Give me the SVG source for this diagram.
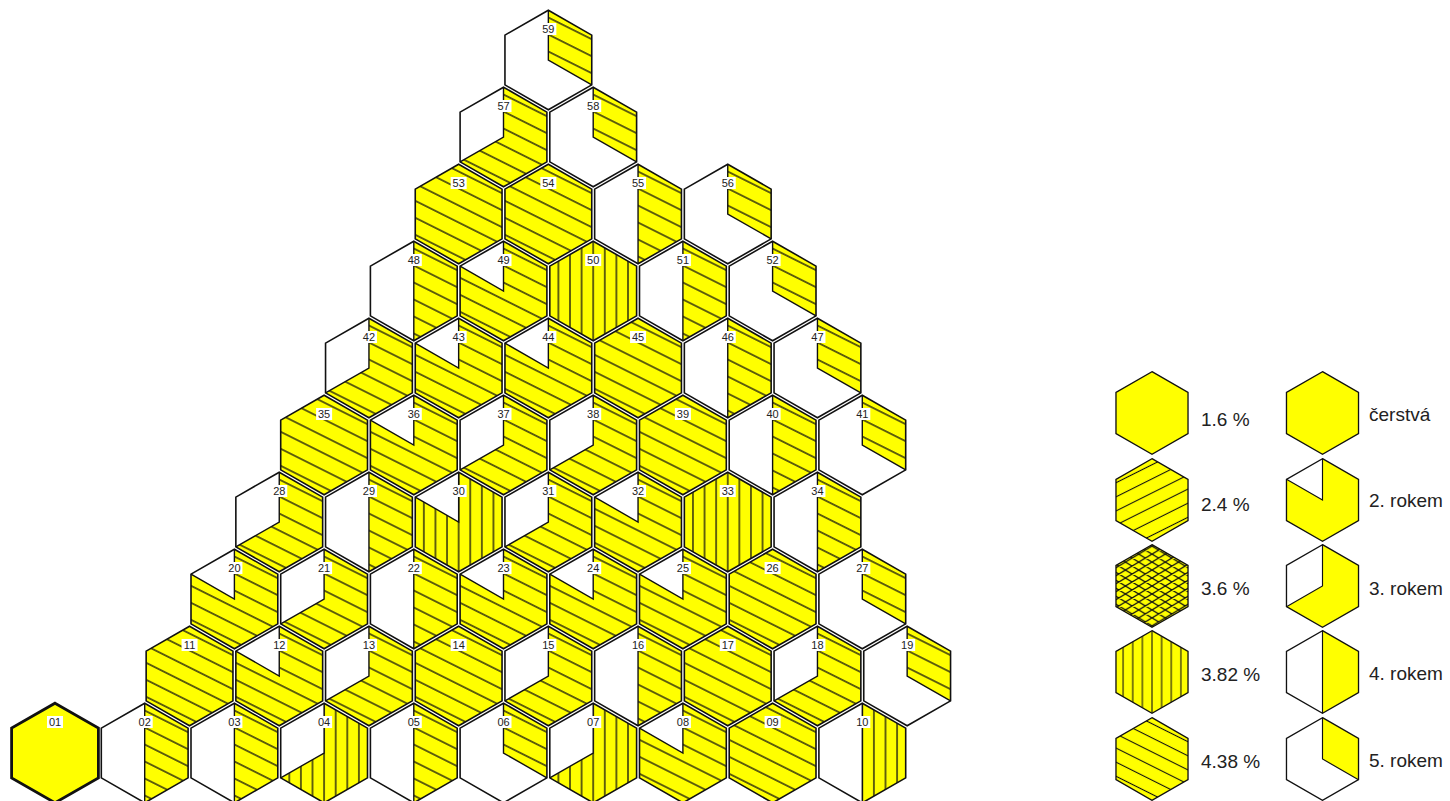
<svg xmlns="http://www.w3.org/2000/svg" xmlns:xlink="http://www.w3.org/1999/xlink" width="1450" height="801" viewBox="0 0 1450 801">
<style>
.hw{fill:#fff}
.ol{fill:none;stroke:#111;stroke-width:1.6}
.olb{fill:none;stroke:#111;stroke-width:2.8}
.dv{fill:none;stroke:#111;stroke-width:1.4}
.h{fill:url(#p438)}
.u{fill:url(#p24)}
.x{fill:url(#p36)}
.v{fill:url(#p382)}
.s{fill:#ffff00}
.lb{fill:#fff}
.lt{font-family:"Liberation Sans",Arial,sans-serif;font-size:11px;fill:#222;text-anchor:middle}
.lg{font-family:"Liberation Sans",Arial,sans-serif;font-size:19px;fill:#222}
</style>
<defs>
<pattern id="p438" patternUnits="userSpaceOnUse" width="20" height="15.2" patternTransform="rotate(26.57)">
<rect width="20" height="15.2" fill="#ffff00"/>
<line x1="-1" y1="7.6" x2="21" y2="7.6" stroke="#111" stroke-width="1.3"/>
</pattern>
<pattern id="p24" patternUnits="userSpaceOnUse" width="20" height="15.2" patternTransform="rotate(-26.57)">
<rect width="20" height="15.2" fill="#ffff00"/>
<line x1="-1" y1="7.6" x2="21" y2="7.6" stroke="#111" stroke-width="1.3"/>
</pattern>
<pattern id="p36" patternUnits="userSpaceOnUse" width="16" height="9.6">
<rect width="16" height="9.6" fill="#ffff00"/>
<path d="M-16,-9.6 L32,19.2 M-16,0 L16,19.2 M0,-9.6 L32,9.6 M-16,19.2 L32,-9.6 M-16,9.6 L16,-9.6 M0,19.2 L32,0" stroke="#111" stroke-width="1.5" fill="none"/>
</pattern>
<pattern id="p382" patternUnits="userSpaceOnUse" width="11.6" height="10" x="-5.8">
<rect width="11.6" height="10" fill="#ffff00"/>
<line x1="5.8" y1="-1" x2="5.8" y2="11" stroke="#111" stroke-width="1.3"/>
</pattern>
<polygon id="hx" points="0,-49.8 43.4,-24.9 43.4,24.9 0,49.8 -43.4,24.9 -43.4,-24.9"/>
<polygon id="y2" points="0,0 0,-49.8 43.4,-24.9 43.4,24.9 0,49.8 -43.4,24.9 -43.4,-24.9"/>
<polygon id="y3" points="0,0 0,-49.8 43.4,-24.9 43.4,24.9 0,49.8 -43.4,24.9"/>
<polygon id="y4" points="0,-49.8 43.4,-24.9 43.4,24.9 0,49.8"/>
<polygon id="y5" points="0,0 0,-49.8 43.4,-24.9 43.4,24.9"/>
<path id="d2" d="M0,-49.8 L0,0 L-43.4,-24.9"/>
<path id="d3" d="M0,-49.8 L0,0 L-43.4,24.9"/>
<path id="d4" d="M0,-49.8 L0,49.8"/>
<path id="d5" d="M0,-49.8 L0,0 L43.4,24.9"/>
<g id="tag"><rect class="lb" x="-8" y="-37" width="16" height="12"/></g>
</defs>
<rect width="1450" height="801" fill="#fff"/>
<g id="core">
<!-- row 0 -->
<g id="fa01" transform="translate(55,753)"><use href="#hx" class="s"/><use href="#hx" class="olb"/><use href="#tag"/><text class="lt" y="-27">01</text></g>
<g id="fa02" transform="translate(144.7,753)"><use href="#hx" class="hw"/><use href="#y4" class="h"/><use href="#d4" class="dv"/><use href="#hx" class="ol"/><use href="#tag"/><text class="lt" y="-27">02</text></g>
<g id="fa03" transform="translate(234.4,753)"><use href="#hx" class="hw"/><use href="#y4" class="h"/><use href="#d4" class="dv"/><use href="#hx" class="ol"/><use href="#tag"/><text class="lt" y="-27">03</text></g>
<g id="fa04" transform="translate(324.1,753)"><use href="#hx" class="hw"/><use href="#y3" class="v"/><use href="#d3" class="dv"/><use href="#hx" class="ol"/><use href="#tag"/><text class="lt" y="-27">04</text></g>
<g id="fa05" transform="translate(413.8,753)"><use href="#hx" class="hw"/><use href="#y4" class="h"/><use href="#d4" class="dv"/><use href="#hx" class="ol"/><use href="#tag"/><text class="lt" y="-27">05</text></g>
<g id="fa06" transform="translate(503.5,753)"><use href="#hx" class="hw"/><use href="#y5" class="h"/><use href="#d5" class="dv"/><use href="#hx" class="ol"/><use href="#tag"/><text class="lt" y="-27">06</text></g>
<g id="fa07" transform="translate(593.2,753)"><use href="#hx" class="hw"/><use href="#y3" class="v"/><use href="#d3" class="dv"/><use href="#hx" class="ol"/><use href="#tag"/><text class="lt" y="-27">07</text></g>
<g id="fa08" transform="translate(682.9,753)"><use href="#hx" class="hw"/><use href="#y2" class="h"/><use href="#d2" class="dv"/><use href="#hx" class="ol"/><use href="#tag"/><text class="lt" y="-27">08</text></g>
<g id="fa09" transform="translate(772.6,753)"><use href="#hx" class="h"/><use href="#hx" class="ol"/><use href="#tag"/><text class="lt" y="-27">09</text></g>
<g id="fa10" transform="translate(862.3,753)"><use href="#hx" class="hw"/><use href="#y4" class="v"/><use href="#d4" class="dv"/><use href="#hx" class="ol"/><use href="#tag"/><text class="lt" y="-27">10</text></g>
<!-- row 1 -->
<g id="fa11" transform="translate(189.55,676)"><use href="#hx" class="h"/><use href="#hx" class="ol"/><use href="#tag"/><text class="lt" y="-27">11</text></g>
<g id="fa12" transform="translate(279.25,676)"><use href="#hx" class="hw"/><use href="#y2" class="h"/><use href="#d2" class="dv"/><use href="#hx" class="ol"/><use href="#tag"/><text class="lt" y="-27">12</text></g>
<g id="fa13" transform="translate(368.95,676)"><use href="#hx" class="hw"/><use href="#y3" class="h"/><use href="#d3" class="dv"/><use href="#hx" class="ol"/><use href="#tag"/><text class="lt" y="-27">13</text></g>
<g id="fa14" transform="translate(458.65,676)"><use href="#hx" class="h"/><use href="#hx" class="ol"/><use href="#tag"/><text class="lt" y="-27">14</text></g>
<g id="fa15" transform="translate(548.35,676)"><use href="#hx" class="hw"/><use href="#y3" class="h"/><use href="#d3" class="dv"/><use href="#hx" class="ol"/><use href="#tag"/><text class="lt" y="-27">15</text></g>
<g id="fa16" transform="translate(638.05,676)"><use href="#hx" class="hw"/><use href="#y4" class="h"/><use href="#d4" class="dv"/><use href="#hx" class="ol"/><use href="#tag"/><text class="lt" y="-27">16</text></g>
<g id="fa17" transform="translate(727.75,676)"><use href="#hx" class="h"/><use href="#hx" class="ol"/><use href="#tag"/><text class="lt" y="-27">17</text></g>
<g id="fa18" transform="translate(817.45,676)"><use href="#hx" class="hw"/><use href="#y3" class="h"/><use href="#d3" class="dv"/><use href="#hx" class="ol"/><use href="#tag"/><text class="lt" y="-27">18</text></g>
<g id="fa19" transform="translate(907.15,676)"><use href="#hx" class="hw"/><use href="#y5" class="h"/><use href="#d5" class="dv"/><use href="#hx" class="ol"/><use href="#tag"/><text class="lt" y="-27">19</text></g>
<!-- row 2 -->
<g id="fa20" transform="translate(234.4,599)"><use href="#hx" class="hw"/><use href="#y2" class="h"/><use href="#d2" class="dv"/><use href="#hx" class="ol"/><use href="#tag"/><text class="lt" y="-27">20</text></g>
<g id="fa21" transform="translate(324.1,599)"><use href="#hx" class="hw"/><use href="#y3" class="h"/><use href="#d3" class="dv"/><use href="#hx" class="ol"/><use href="#tag"/><text class="lt" y="-27">21</text></g>
<g id="fa22" transform="translate(413.8,599)"><use href="#hx" class="hw"/><use href="#y4" class="h"/><use href="#d4" class="dv"/><use href="#hx" class="ol"/><use href="#tag"/><text class="lt" y="-27">22</text></g>
<g id="fa23" transform="translate(503.5,599)"><use href="#hx" class="hw"/><use href="#y2" class="h"/><use href="#d2" class="dv"/><use href="#hx" class="ol"/><use href="#tag"/><text class="lt" y="-27">23</text></g>
<g id="fa24" transform="translate(593.2,599)"><use href="#hx" class="hw"/><use href="#y2" class="h"/><use href="#d2" class="dv"/><use href="#hx" class="ol"/><use href="#tag"/><text class="lt" y="-27">24</text></g>
<g id="fa25" transform="translate(682.9,599)"><use href="#hx" class="hw"/><use href="#y2" class="h"/><use href="#d2" class="dv"/><use href="#hx" class="ol"/><use href="#tag"/><text class="lt" y="-27">25</text></g>
<g id="fa26" transform="translate(772.6,599)"><use href="#hx" class="h"/><use href="#hx" class="ol"/><use href="#tag"/><text class="lt" y="-27">26</text></g>
<g id="fa27" transform="translate(862.3,599)"><use href="#hx" class="hw"/><use href="#y5" class="h"/><use href="#d5" class="dv"/><use href="#hx" class="ol"/><use href="#tag"/><text class="lt" y="-27">27</text></g>
<!-- row 3 -->
<g id="fa28" transform="translate(279.25,522)"><use href="#hx" class="hw"/><use href="#y3" class="h"/><use href="#d3" class="dv"/><use href="#hx" class="ol"/><use href="#tag"/><text class="lt" y="-27">28</text></g>
<g id="fa29" transform="translate(368.95,522)"><use href="#hx" class="hw"/><use href="#y4" class="h"/><use href="#d4" class="dv"/><use href="#hx" class="ol"/><use href="#tag"/><text class="lt" y="-27">29</text></g>
<g id="fa30" transform="translate(458.65,522)"><use href="#hx" class="hw"/><use href="#y2" class="v"/><use href="#d2" class="dv"/><use href="#hx" class="ol"/><use href="#tag"/><text class="lt" y="-27">30</text></g>
<g id="fa31" transform="translate(548.35,522)"><use href="#hx" class="hw"/><use href="#y3" class="h"/><use href="#d3" class="dv"/><use href="#hx" class="ol"/><use href="#tag"/><text class="lt" y="-27">31</text></g>
<g id="fa32" transform="translate(638.05,522)"><use href="#hx" class="hw"/><use href="#y2" class="h"/><use href="#d2" class="dv"/><use href="#hx" class="ol"/><use href="#tag"/><text class="lt" y="-27">32</text></g>
<g id="fa33" transform="translate(727.75,522)"><use href="#hx" class="v"/><use href="#hx" class="ol"/><use href="#tag"/><text class="lt" y="-27">33</text></g>
<g id="fa34" transform="translate(817.45,522)"><use href="#hx" class="hw"/><use href="#y4" class="h"/><use href="#d4" class="dv"/><use href="#hx" class="ol"/><use href="#tag"/><text class="lt" y="-27">34</text></g>
<!-- row 4 -->
<g id="fa35" transform="translate(324.1,445)"><use href="#hx" class="h"/><use href="#hx" class="ol"/><use href="#tag"/><text class="lt" y="-27">35</text></g>
<g id="fa36" transform="translate(413.8,445)"><use href="#hx" class="hw"/><use href="#y2" class="h"/><use href="#d2" class="dv"/><use href="#hx" class="ol"/><use href="#tag"/><text class="lt" y="-27">36</text></g>
<g id="fa37" transform="translate(503.5,445)"><use href="#hx" class="hw"/><use href="#y3" class="h"/><use href="#d3" class="dv"/><use href="#hx" class="ol"/><use href="#tag"/><text class="lt" y="-27">37</text></g>
<g id="fa38" transform="translate(593.2,445)"><use href="#hx" class="hw"/><use href="#y3" class="h"/><use href="#d3" class="dv"/><use href="#hx" class="ol"/><use href="#tag"/><text class="lt" y="-27">38</text></g>
<g id="fa39" transform="translate(682.9,445)"><use href="#hx" class="h"/><use href="#hx" class="ol"/><use href="#tag"/><text class="lt" y="-27">39</text></g>
<g id="fa40" transform="translate(772.6,445)"><use href="#hx" class="hw"/><use href="#y4" class="h"/><use href="#d4" class="dv"/><use href="#hx" class="ol"/><use href="#tag"/><text class="lt" y="-27">40</text></g>
<g id="fa41" transform="translate(862.3,445)"><use href="#hx" class="hw"/><use href="#y5" class="h"/><use href="#d5" class="dv"/><use href="#hx" class="ol"/><use href="#tag"/><text class="lt" y="-27">41</text></g>
<!-- row 5 -->
<g id="fa42" transform="translate(368.95,368)"><use href="#hx" class="hw"/><use href="#y3" class="h"/><use href="#d3" class="dv"/><use href="#hx" class="ol"/><use href="#tag"/><text class="lt" y="-27">42</text></g>
<g id="fa43" transform="translate(458.65,368)"><use href="#hx" class="hw"/><use href="#y2" class="h"/><use href="#d2" class="dv"/><use href="#hx" class="ol"/><use href="#tag"/><text class="lt" y="-27">43</text></g>
<g id="fa44" transform="translate(548.35,368)"><use href="#hx" class="hw"/><use href="#y2" class="h"/><use href="#d2" class="dv"/><use href="#hx" class="ol"/><use href="#tag"/><text class="lt" y="-27">44</text></g>
<g id="fa45" transform="translate(638.05,368)"><use href="#hx" class="h"/><use href="#hx" class="ol"/><use href="#tag"/><text class="lt" y="-27">45</text></g>
<g id="fa46" transform="translate(727.75,368)"><use href="#hx" class="hw"/><use href="#y4" class="h"/><use href="#d4" class="dv"/><use href="#hx" class="ol"/><use href="#tag"/><text class="lt" y="-27">46</text></g>
<g id="fa47" transform="translate(817.45,368)"><use href="#hx" class="hw"/><use href="#y5" class="h"/><use href="#d5" class="dv"/><use href="#hx" class="ol"/><use href="#tag"/><text class="lt" y="-27">47</text></g>
<!-- row 6 -->
<g id="fa48" transform="translate(413.8,291)"><use href="#hx" class="hw"/><use href="#y4" class="h"/><use href="#d4" class="dv"/><use href="#hx" class="ol"/><use href="#tag"/><text class="lt" y="-27">48</text></g>
<g id="fa49" transform="translate(503.5,291)"><use href="#hx" class="hw"/><use href="#y2" class="h"/><use href="#d2" class="dv"/><use href="#hx" class="ol"/><use href="#tag"/><text class="lt" y="-27">49</text></g>
<g id="fa50" transform="translate(593.2,291)"><use href="#hx" class="v"/><use href="#hx" class="ol"/><use href="#tag"/><text class="lt" y="-27">50</text></g>
<g id="fa51" transform="translate(682.9,291)"><use href="#hx" class="hw"/><use href="#y4" class="h"/><use href="#d4" class="dv"/><use href="#hx" class="ol"/><use href="#tag"/><text class="lt" y="-27">51</text></g>
<g id="fa52" transform="translate(772.6,291)"><use href="#hx" class="hw"/><use href="#y5" class="h"/><use href="#d5" class="dv"/><use href="#hx" class="ol"/><use href="#tag"/><text class="lt" y="-27">52</text></g>
<!-- row 7 -->
<g id="fa53" transform="translate(458.65,214)"><use href="#hx" class="h"/><use href="#hx" class="ol"/><use href="#tag"/><text class="lt" y="-27">53</text></g>
<g id="fa54" transform="translate(548.35,214)"><use href="#hx" class="h"/><use href="#hx" class="ol"/><use href="#tag"/><text class="lt" y="-27">54</text></g>
<g id="fa55" transform="translate(638.05,214)"><use href="#hx" class="hw"/><use href="#y4" class="h"/><use href="#d4" class="dv"/><use href="#hx" class="ol"/><use href="#tag"/><text class="lt" y="-27">55</text></g>
<g id="fa56" transform="translate(727.75,214)"><use href="#hx" class="hw"/><use href="#y5" class="h"/><use href="#d5" class="dv"/><use href="#hx" class="ol"/><use href="#tag"/><text class="lt" y="-27">56</text></g>
<!-- row 8 -->
<g id="fa57" transform="translate(503.5,137)"><use href="#hx" class="hw"/><use href="#y3" class="h"/><use href="#d3" class="dv"/><use href="#hx" class="ol"/><use href="#tag"/><text class="lt" y="-27">57</text></g>
<g id="fa58" transform="translate(593.2,137)"><use href="#hx" class="hw"/><use href="#y5" class="h"/><use href="#d5" class="dv"/><use href="#hx" class="ol"/><use href="#tag"/><text class="lt" y="-27">58</text></g>
<!-- row 9 -->
<g id="fa59" transform="translate(548.35,60)"><use href="#hx" class="hw"/><use href="#y5" class="h"/><use href="#d5" class="dv"/><use href="#hx" class="ol"/><use href="#tag"/><text class="lt" y="-27">59</text></g>
</g>
<g id="legend">
<g id="leg-16" transform="translate(1152,413) scale(0.83)"><use href="#hx" class="s"/><use href="#hx" class="ol"/></g>
<g id="leg-24" transform="translate(1152,500) scale(0.83)"><use href="#hx" class="u"/><use href="#hx" class="ol"/></g>
<g id="leg-36" transform="translate(1152,586) scale(0.83)"><use href="#hx" class="x"/><use href="#hx" class="ol"/></g>
<g id="leg-382" transform="translate(1152,672) scale(0.83)"><use href="#hx" class="v"/><use href="#hx" class="ol"/></g>
<g id="leg-438" transform="translate(1152,759) scale(0.83)"><use href="#hx" class="h"/><use href="#hx" class="ol"/></g>
<g id="leg-fresh" transform="translate(1322.5,413) scale(0.83)"><use href="#hx" class="s"/><use href="#hx" class="ol"/></g>
<g id="leg-y2" transform="translate(1322.5,500) scale(0.83)"><use href="#hx" class="hw"/><use href="#y2" class="s"/><use href="#d2" class="dv"/><use href="#hx" class="ol"/></g>
<g id="leg-y3" transform="translate(1322.5,586) scale(0.83)"><use href="#hx" class="hw"/><use href="#y3" class="s"/><use href="#d3" class="dv"/><use href="#hx" class="ol"/></g>
<g id="leg-y4" transform="translate(1322.5,672) scale(0.83)"><use href="#hx" class="hw"/><use href="#y4" class="s"/><use href="#d4" class="dv"/><use href="#hx" class="ol"/></g>
<g id="leg-y5" transform="translate(1322.5,759) scale(0.83)"><use href="#hx" class="hw"/><use href="#y5" class="s"/><use href="#d5" class="dv"/><use href="#hx" class="ol"/></g>
<text class="lg" x="1201" y="426">1.6 %</text>
<text class="lg" x="1201" y="511">2.4 %</text>
<text class="lg" x="1201" y="595">3.6 %</text>
<text class="lg" x="1201" y="681">3.82 %</text>
<text class="lg" x="1201" y="768">4.38 %</text>
<text class="lg" x="1369" y="421">čerstvá</text>
<text class="lg" x="1369" y="507">2. rokem</text>
<text class="lg" x="1369" y="595">3. rokem</text>
<text class="lg" x="1369" y="680">4. rokem</text>
<text class="lg" x="1369" y="767">5. rokem</text>
</g>
</svg>
